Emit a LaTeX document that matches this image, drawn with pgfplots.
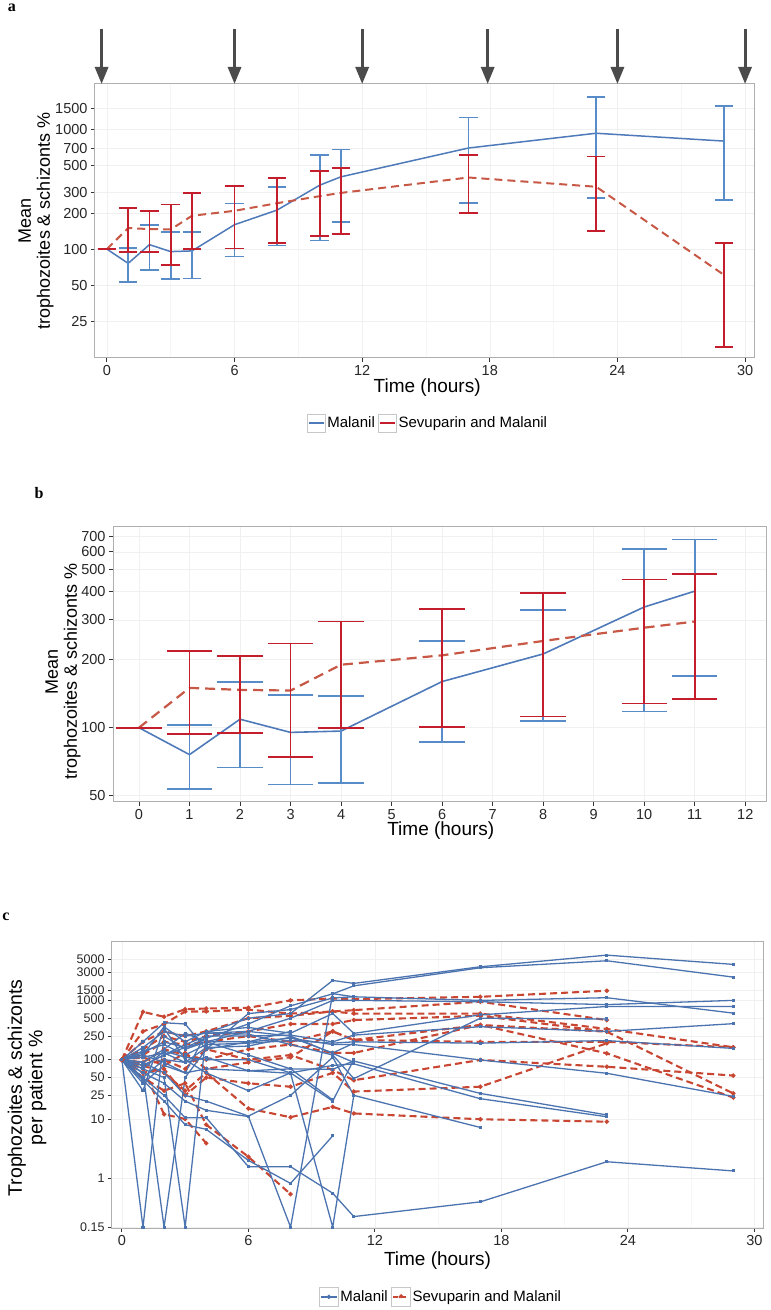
\documentclass[border=0pt]{standalone}
\usepackage{pgfplots}
\pgfplotsset{compat=1.18}
\usepackage{pgfplotstable}
\usepackage{fontspec}
\setmainfont{Liberation Sans}
\newfontfamily\panelfont{Liberation Serif}
\usetikzlibrary{arrows.meta}
\definecolor{bline}{RGB}{78,122,186}
\definecolor{bbar}{RGB}{88,140,200}
\definecolor{rline}{RGB}{200,88,70}
\definecolor{rbar}{RGB}{196,30,45}
\definecolor{cblue}{RGB}{75,115,175}
\definecolor{cred}{RGB}{200,70,50}
\definecolor{framegray}{RGB}{175,175,175}
\definecolor{arrgray}{RGB}{75,75,75}

\pgfplotstableread{
t mean lo hi
0 100 100 100
1 76 53.5 102.4
2 109 66.6 159
3 95.3 56 140
4 96.6 56.7 138
6 160 86.6 241
8 212 107 332
10 342 118 616
11 402 169 680
17 700 244 1260
23 930 267 1866
29 800 257 1570
}\tabBlue

\pgfplotstableread{
t mean lo hi
0 100 100 100
1 150 94 219
2 147 94.7 207
3 146 74 236
4 190 100 295
6 209 101 335
8 242 112 394
10 277 128 453
11 295 134 478
17 397 199 615
23 332 141 595
29 61 15.3 112
}\tabRed

\pgfplotsset{
  /pgf/number format/assume math mode=true,
  mybase/.style={
    scale only axis,
    axis line style={framegray, line width=1pt},
    tick pos=left,
    tick align=outside,
    major tick length=4pt,
    minor tick length=0pt,
    every tick/.style={black!80, line width=0.9pt},
    tick label style={font=\fontsize{14.5}{16}\selectfont, text=black!85},
    label style={font=\fontsize{19}{20}\selectfont},
    grid=major,
    major grid style={black!6, line width=0.6pt},
    minor grid style={black!3.5, line width=0.5pt},
  },
  mylegbox/.style={
    legend columns=2,
    legend cell align=left,
    legend style={draw=none, fill=none, font=\fontsize{15}{16}\selectfont,
      inner sep=0pt, nodes={inner sep=1.5pt},
      /tikz/every even column/.append style={column sep=2pt}},
  },
  ebars/.style 2 args={forget plot, draw=none, mark=none,
    error bars/.cd, y dir=both, y explicit, error mark=|,
    error bar style={draw=#1, solid, line width=1.8pt},
    error mark options={draw=#1, solid, line width=1.8pt, mark size=#2},
    /pgfplots/.cd},
  bser/.style={forget plot, cblue, line width=1.3pt, mark=square*, mark size=0.9pt},
  rser/.style={forget plot, cred, line width=2.1pt, dash pattern=on 7pt off 4pt, mark=*, mark size=1pt, mark options={solid}},
}

\begin{document}
\begin{tikzpicture}
\path[use as bounding box] (0pt,0pt) rectangle (771pt,1310pt);

% ---------------- panel a ----------------
\begin{axis}[ymode=log, mybase,
  at={(95pt,952pt)}, anchor=south west,
  width=659pt, height=274pt,
  xmin=-0.56, xmax=30.42, ymin=12.3, ymax=2400,
  xtick={0,6,12,18,24,30}, xticklabels={0,6,12,18,24,30},
  minor xtick={3,9,15,21,27}, xminorgrids=true,
  ytick={25,50,100,200,300,500,700,1000,1500},
  yticklabels={25,50,100,200,300,500,700,1000,1500},
  xlabel={Time (hours)},
  xlabel style={at={(axis description cs:0.504,-0.1095)}, anchor=center},
  ylabel={Mean\\trophozoites \& schizonts \%},
  ylabel style={at={(axis description cs:-0.0895,0.5)}, anchor=center, align=center, font=\fontsize{18}{19}\selectfont},
  clip=false,
  mylegbox,
  legend image code/.code={
    \draw[solid, draw=black!22, fill=white, line width=0.8pt] (0pt,-9pt) rectangle (18pt,9pt);
    \draw (1.5pt,0pt) -- (16.5pt,0pt);
  },
  legend style={at={(axis description cs:0.505,-0.237)}, anchor=center},
]
\addlegendimage{bline, line width=1.6pt}
\addlegendentry{Malanil}
\addlegendimage{rbar, line width=1.6pt}
\addlegendentry{Sevuparin and Malanil}
\addplot[forget plot, bline, line width=1.5pt, mark=none] table[x=t,y=mean]{\tabBlue};
\addplot[forget plot, rline, line width=2pt, dash pattern=on 8pt off 5pt, mark=none] table[x=t,y=mean]{\tabRed};
\addplot[ebars={bbar}{9.3pt}]
  table[x=t, y=mean, y error plus expr=\thisrow{hi}-\thisrow{mean}, y error minus expr=\thisrow{mean}-\thisrow{lo}]{\tabBlue};
\addplot[ebars={rbar}{9.3pt}]
  table[x=t, y=mean, y error plus expr=\thisrow{hi}-\thisrow{mean}, y error minus expr=\thisrow{mean}-\thisrow{lo}]{\tabRed};
\pgfplotsinvokeforeach{-0.25,6,12,17.9,24,30}{
  \draw[arrgray, line width=3pt, -{Triangle[length=17pt,width=13pt]}] (axis cs:#1,2400) ++(0pt,55pt) -- (axis cs:#1,2400);
}
\end{axis}

% ---------------- panel b ----------------
\begin{axis}[ymode=log, mybase,
  at={(113pt,508pt)}, anchor=south west,
  width=653pt, height=275pt,
  xmin=-0.514, xmax=12.41, ymin=46.9, ymax=773,
  xtick={0,1,2,3,4,5,6,7,8,9,10,11,12},
  xticklabels={0,1,2,3,4,5,6,7,8,9,10,11,12},
  ytick={50,100,200,300,400,500,600,700},
  yticklabels={50,100,200,300,400,500,600,700},
  xlabel={Time (hours)},
  xlabel style={at={(axis description cs:0.502,-0.105)}, anchor=center},
  ylabel={Mean\\trophozoites \& schizonts \%},
  ylabel style={at={(axis description cs:-0.0766,0.473)}, anchor=center, align=center, font=\fontsize{18}{19}\selectfont},
]
\addplot[forget plot, bline, line width=1.6pt, mark=none, restrict x to domain=-1:11.5] table[x=t,y=mean]{\tabBlue};
\addplot[forget plot, rline, line width=2.2pt, dash pattern=on 10pt off 6pt, mark=none, restrict x to domain=-1:11.5] table[x=t,y=mean]{\tabRed};
\addplot[restrict x to domain=-1:11.5, ebars={bbar}{22.7pt}]
  table[x=t, y=mean, y error plus expr=\thisrow{hi}-\thisrow{mean}, y error minus expr=\thisrow{mean}-\thisrow{lo}]{\tabBlue};
\addplot[restrict x to domain=-1:11.5, ebars={rbar}{22.7pt}]
  table[x=t, y=mean, y error plus expr=\thisrow{hi}-\thisrow{mean}, y error minus expr=\thisrow{mean}-\thisrow{lo}]{\tabRed};
\end{axis}

% ---------------- panel c ----------------
\begin{axis}[ymode=log, mybase,
  at={(112pt,82pt)}, anchor=south west,
  width=651pt, height=286pt,
  xmin=-0.47, xmax=30.41, ymin=0.145, ymax=9660,
  xtick={0,6,12,18,24,30}, xticklabels={0,6,12,18,24,30},
  minor xtick={3,9,15,21,27}, xminorgrids=true,
  ytick={0.15,1,10,25,50,100,250,500,1000,1500,3000,5000},
  yticklabels={0.15,1,10,25,50,100,250,500,1000,1500,3000,5000},
  yticklabel style={font=\fontsize{12.5}{13}\selectfont},
  xlabel={Time (hours)},
  xlabel style={at={(axis description cs:0.50,-0.115)}, anchor=center},
  ylabel={Trophozoites \& schizonts\\per patient \%},
  ylabel style={at={(axis description cs:-0.1306,0.49)}, anchor=center, align=center, font=\fontsize{19.5}{20.5}\selectfont},
  mylegbox,
  legend image code/.code={
    \draw[solid, draw=black!22, fill=white, line width=0.8pt] (0pt,-9.5pt) rectangle (19pt,9.5pt);
    \draw (1.5pt,0pt) -- (17.5pt,0pt);
    \fill (9.5pt,0pt) circle (1.4pt);
  },
  legend style={at={(axis description cs:0.505,-0.241)}, anchor=center},
]
\addlegendimage{cblue, line width=1.3pt}
\addlegendentry{Malanil}
\addlegendimage{cred, line width=2.1pt, dash pattern=on 5pt off 3pt}
\addlegendentry{Sevuparin and Malanil}
% Sevuparin and Malanil patients
\addplot[rser] coordinates {(0,100)(1,640)(2,530)(3,710)(4,730)(6,750)(8,1000)(10,1080)(11,1050)(17,1150)(23,1455)};
\addplot[rser] coordinates {(0,100)(1,300)(2,400)(3,650)(4,650)(6,700)(8,600)(10,650)(11,685)(17,950)(23,466)};
\addplot[rser] coordinates {(0,100)(1,200)(2,300)(3,250)(4,300)(6,500)(8,550)(10,650)(11,600)(17,600)(23,330)(29,162)};
\addplot[rser] coordinates {(0,100)(1,150)(2,250)(3,200)(4,250)(6,300)(8,400)(10,400)(11,466)(17,550)(23,297)(29,27)};
\addplot[rser] coordinates {(0,100)(1,120)(2,200)(3,180)(4,200)(6,250)(8,200)(10,300)(11,215)(17,200)(23,200)(29,162)};
\addplot[rser] coordinates {(0,100)(1,90)(2,150)(3,120)(4,100)(6,150)(8,180)(10,130)(11,130)(17,385)(23,128)(29,23)};
\addplot[rser] coordinates {(0,100)(1,80)(2,100)(3,70)(4,150)(6,100)(8,120)(10,67)(11,45)(17,99)(23,76)(29,54)};
\addplot[rser] coordinates {(0,100)(1,60)(2,70)(3,25)(4,50)(6,40)(8,35)(10,60)(11,29)(17,35)(23,189)};
\addplot[rser] coordinates {(0,100)(1,70)(2,12)(3,10)(4,3.9)};
\addplot[rser] coordinates {(0,100)(1,50)(2,30)(3,40)(4,8)(6,2.3)(8,0.54)};
\addplot[rser] coordinates {(0,100)(1,80)(2,60)(3,30)(4,60)(6,15)(8,10.7)(10,16)(11,12.4)(17,9.9)(23,9)};
\addplot[rser] coordinates {(0,100)(1,110)(2,80)(3,130)(4,70)(6,90)(8,110)(10,300)(11,215)(17,385)(23,297)};
% Malanil patients
\addplot[bser] coordinates {(0,100)(1,160)(2,300)(3,250)(4,280)(6,500)(8,600)(10,2170)(11,1935)(17,3690)(23,5800)(29,4050)};
\addplot[bser] coordinates {(0,100)(1,130)(2,200)(3,160)(4,230)(6,400)(8,810)(10,1290)(11,1760)(17,3550)(23,4660)(29,2470)};
\addplot[bser] coordinates {(0,100)(1,200)(2,420)(3,400)(4,150)(6,600)(8,700)(10,1100)(11,1150)(17,1000)(23,1110)(29,610)};
\addplot[bser] coordinates {(0,100)(1,90)(2,150)(3,280)(4,200)(6,300)(8,500)(10,1000)(11,1000)(17,950)(23,850)(29,1000)};
\addplot[bser] coordinates {(0,100)(1,120)(2,360)(3,200)(4,300)(6,350)(8,280)(10,600)(11,278)(17,570)(23,790)(29,790)};
\addplot[bser] coordinates {(0,100)(1,80)(2,120)(3,180)(4,250)(6,250)(8,260)(10,200)(11,260)(17,360)(23,300)(29,405)};
\addplot[bser] coordinates {(0,100)(1,140)(2,180)(3,120)(4,180)(6,190)(8,210)(10,190)(11,200)(17,190)(23,210)(29,155)};
\addplot[bser] coordinates {(0,100)(1,110)(2,130)(3,90)(4,160)(6,170)(8,240)(10,130)(11,190)};
\addplot[bser] coordinates {(0,100)(1,40)(2,80)(3,60)(4,280)(6,270)(8,180)(10,120)(11,48)(17,500)(23,486)};
\addplot[bser] coordinates {(0,100)(1,80)(2,120)(3,160)(4,200)(6,200)(8,230)(10,180)(11,180)(17,99)(23,59)(29,24)};
\addplot[bser] coordinates {(0,100)(1,50)(2,100)(3,90)(4,110)(6,65)(8,70)(10,69)(11,95)(17,27)(23,11.7)};
\addplot[bser] coordinates {(0,100)(1,70)(2,140)(3,110)(4,100)(6,100)(8,60)(10,80)(11,85)(17,22)(23,10.9)};
\addplot[bser] coordinates {(0,100)(1,90)(2,60)(3,25)(4,20)(6,11.2)(8,25)(10,110)(11,25)(17,7.2)};
\addplot[bser] coordinates {(0,100)(1,30)(2,340)(3,100)(4,60)(6,30)(8,60)(10,20)(11,100)};
\addplot[bser] coordinates {(0,100)(1,0.15)(2,250)(3,150)(4,200)(6,120)(8,70)(10,21)};
\addplot[bser] coordinates {(0,100)(1,60)(2,0.15)(3,50)(4,150)(6,200)(8,300)};
\addplot[bser] coordinates {(0,100)(1,70)(2,50)(3,0.15)(4,280)(6,300)(8,250)(10,128)(11,90)};
\addplot[bser] coordinates {(0,100)(1,50)(2,25)(3,10.5)(4,10.5)(6,1.57)(8,1.57)(10,0.56)(11,0.226)(17,0.40)(23,1.9)(29,1.33)};
\addplot[bser] coordinates {(0,100)(1,45)(2,20)(3,8)(4,6.7)(6,2.0)(8,0.82)(10,5.2)};
\addplot[bser] coordinates {(0,100)(1,60)(2,40)(3,20)(4,14)(6,11)(8,0.15)(10,1300)(11,1150)};
\addplot[bser] coordinates {(0,100)(1,120)(2,90)(3,60)(4,70)(6,65)(8,59)(10,0.15)(11,25)};
\end{axis}

\node[font=\panelfont\bfseries\fontsize{16}{16}\selectfont] at (12pt,1302pt) {a};
\node[font=\panelfont\bfseries\fontsize{16}{16}\selectfont] at (39pt,817pt) {b};
\node[font=\panelfont\bfseries\fontsize{16}{16}\selectfont] at (6pt,393pt) {c};
\end{tikzpicture}
\end{document}
